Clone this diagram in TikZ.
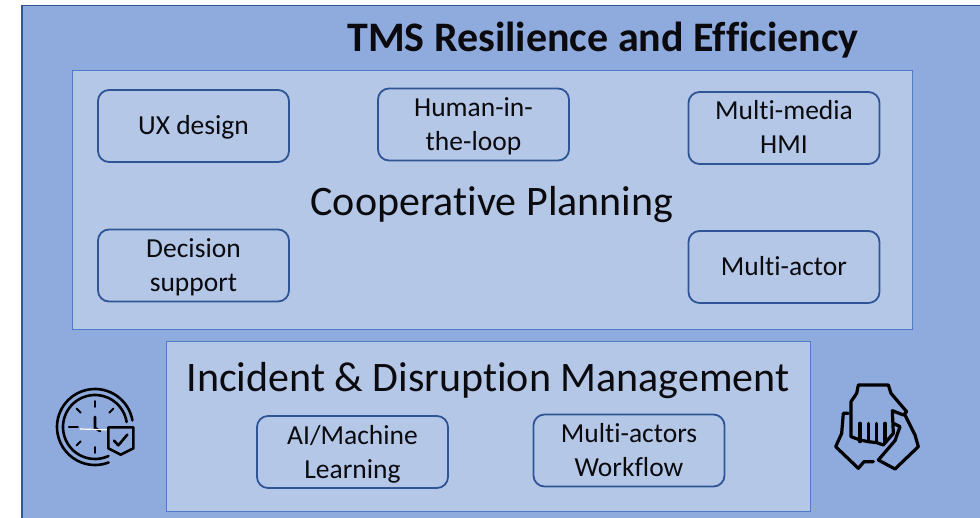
\documentclass[tikz,border=0pt]{standalone}
\usepackage{fontspec}
\setmainfont[Ligatures=CommonOff]{Carlito}
\usepackage{xcolor}
\definecolor{outerblue}{HTML}{8FAADC}
\definecolor{panelblue}{HTML}{B4C7E7}
\definecolor{edgeblue}{HTML}{2F5597}
\definecolor{paneledge}{HTML}{4F7BC8}
\definecolor{inkblack}{HTML}{0A0A0F}
\newcommand{\boxstrut}{\rule[-7pt]{0pt}{32pt}}

\begin{document}
\begin{tikzpicture}[x=1pt,y=-1pt,
        every node/.style={inner sep=0,text=inkblack},
        panel/.style 2 args={draw=paneledge,fill=panelblue,line width=1pt,minimum width=#1pt,minimum height=#2pt},
        topicbox/.style={draw=edgeblue,fill=panelblue,line width=1.8pt,rounded corners=11pt,
            minimum width=191pt,minimum height=72pt,align=center,font=\fontsize{27.5}{34}\selectfont},
        heading/.style={font=\fontsize{42}{48}\selectfont},
        iconline/.style={draw=black,line width=2.6pt,line join=round,line cap=round}]
        
        \useasboundingbox (0,0) rectangle (980,518);
        \clip (0,0) rectangle (980,518);
        
        \draw[fill=outerblue,draw=edgeblue,line width=1.6pt] (22,530) -- (22,5.5) -- (1000,5.5) -- (1000,530) -- cycle;
        
        \node (title) at (603,40) {\fontsize{42}{48}\selectfont\bfseries TMS Resilience and Efficiency};
        
        \node[panel={840}{259}] (plan) at (492,200.5) {};
        \node[panel={644}{169}] (incident) at (488,426.5) {};
        
        \node[heading] (plantext) at (492,204.5) {Cooperative Planning};
        \node[heading] (incidenttext) at (488,380.5) {Incident \& Disruption Management};
        
        \node[topicbox] (ux) at (193.5,126) {\boxstrut UX design};
        \node[topicbox] (human) at (473.5,124.5) {\boxstrut Human-in-\\\boxstrut the-loop};
        \node[topicbox] (media) at (784,128) {\boxstrut Multi-media\\\boxstrut HMI};
        \node[topicbox] (decision) at (193.5,265.5) {\boxstrut Decision\\\boxstrut support};
        \node[topicbox] (actor) at (784,267) {\boxstrut Multi-actor};
        \node[topicbox] (machine) at (352.5,452) {\boxstrut AI/Machine\\\boxstrut Learning};
        \node[topicbox] (workflow) at (629,450.5) {\boxstrut Multi-actors\\\boxstrut Workflow};
        
        % clock
        \begin{scope}[shift={(95,427)}]
            \draw[iconline] (-10:38) arc (-10:-291:38);
            \draw[iconline] (-9:32) arc (-9:-295:32);
            \foreach \a in {45,90,...,315}{
                \draw[iconline,line width=1.8pt] (\a:20) -- (\a:26);
            }
            \draw[iconline,line width=1.8pt] (-26,0) -- (-17,0);
            \draw[iconline] (0,-10) -- (0,1) -- (5,4);
            \draw[white,line width=1.2pt] (-15,2) -- (17,3);
        \end{scope}
        % shield
        \begin{scope}[shift={(30,370)},x=0.3333pt,y=-0.3333pt]
            \draw[iconline,fill=outerblue] (235,172) -- (310,172) -- (310,235) -- (272,254) -- (235,235) -- cycle;
            \draw[iconline] (252,212) -- (265,226) -- (292,194);
        \end{scope}
        
        % hands
        \begin{scope}[shift={(815,370)},x=0.3333pt,y=-0.3333pt]
            \draw[iconline,line width=3.2pt] (100,130) -- (85,130) -- (80,190) -- (62,230) -- (130,295) -- (147,275) -- (175,275);
            \draw[iconline,line width=3.2pt] (270,135) -- (300,195) -- (310,230) -- (240,297) -- (190,270) -- (240,212) -- (255,170) -- (235,160);
            \draw[iconline,line width=3.2pt,fill=outerblue] (130,45) -- (220,45) -- (228,70) -- (275,125) -- (265,135) -- (232,122) -- (235,190) -- (205,225)
                -- (185,218) -- (160,215) -- (135,210) -- (108,200) -- (108,95) -- (125,70) -- cycle;
            \foreach \xa in {135,160,185,210}{
                \draw[iconline,line width=3.2pt] (\xa,160) -- (\xa,215);
            }
        \end{scope}
        
    \end{tikzpicture}
\end{document}
